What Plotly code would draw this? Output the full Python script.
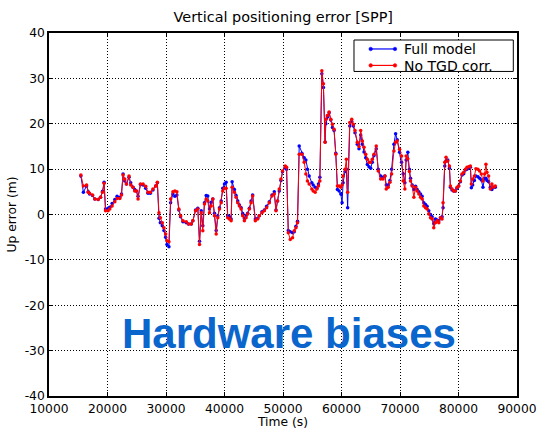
import plotly.graph_objects as go

time_s = [15450, 15880, 16420, 16700, 16940, 17450, 17840, 18400, 18810, 19150,
          19420, 19660, 20100, 20390, 20790, 21250, 21640, 22100, 22390, 22660,
          22950, 23240, 23680, 23970, 24360, 24650, 24940, 25220, 25630, 26070,
          26530, 26920, 27330, 27770, 28230, 28520, 28800, 29030, 29370, 29650,
          29940, 30160, 30500, 30790, 31180, 31520, 31860, 32200, 32490, 32890,
          33460, 33860, 34320, 34590, 35050, 35440, 35730, 36020, 36290, 36580,
          36870, 37140, 37430, 37720, 38000, 38290, 38580, 38850, 39140, 39430,
          39700, 39990, 40280, 40550, 40840, 41130, 41300, 41690, 41980, 42260,
          42550, 42840, 43110, 43400, 43690, 43960, 44250, 44540, 44810, 45270,
          45670, 45950, 46410, 46810, 47200, 47660, 48120, 48510, 48800, 49070,
          49360, 49650, 49920, 50380, 50610, 50900, 51240, 51630, 51920, 52210,
          52480, 52770, 53230, 53620, 53910, 54180, 54470, 54930, 55160, 55500,
          55790, 56060, 56300, 56640, 56910, 57200, 57320, 57590, 57880, 58170,
          58450, 58730, 59020, 59300, 59590, 59880, 60100, 60270, 60610, 60830,
          61050, 61410, 61750, 62020, 62310, 62700, 62990, 63280, 63560, 63850,
          64140, 64410, 64700, 64990, 65260, 65550, 65940, 66280, 66690, 67080,
          67420, 67650, 67990, 68280, 68570, 68960, 69250, 69520, 69930, 70270,
          70540, 70830, 71050, 71340, 71600, 71800, 72080, 72370, 72660, 72930,
          73220, 73510, 73780, 74070, 74360, 74630, 74920, 75210, 75490, 75770,
          76060, 76340, 76630, 76920, 77190, 77360, 77650, 77870, 78160, 78450,
          78620, 78890, 79180, 79470, 79750, 80030, 80320, 80600, 80890, 81180,
          81450, 81740, 82030, 82200, 82420, 82710, 82980, 83320, 83610, 83900,
          84180, 84470, 84690, 84860, 85150, 85440, 85710, 86000, 86290]

no_tgd = [8.7, 6.3, 6.5, 4.9, 4.7, 4.3, 3.4, 3.3, 3.8, 4.9,
          6.9, 0.8, 0.8, 1.2, 1.9, 2.8, 3.5, 3.5, 4.3, 8.7,
          7.8, 6.7, 8.5, 6.5, 6.0, 5.2, 5.2, 3.4, 6.7, 6.7,
          6.2, 4.9, 4.9, 5.6, 6.3, 7.1, 0.4, -0.7, -1.8, -2.9,
          -4.3, -5.8, -6.0, 3.4, 5.0, 5.2, 5.0, 1.2, -0.3, -1.4,
          -1.6, -2.1, -2.1, -1.4, 0.8, 1.2, -6.6, 0.4, -3.6, 2.3,
          3.4, 3.0, 0.4, 1.9, 3.4, -0.3, -4.3, -0.7, 1.2, 2.6,
          5.2, 5.8, 5.8, -0.7, -1.0, -1.4, 6.0, 4.9, 3.8, 2.6,
          1.9, 1.2, -0.3, -1.4, -0.7, 0.1, 1.2, 2.6, 4.1, -1.4,
          -1.0, -0.3, 0.4, 0.8, 1.5, 2.6, 4.1, 4.5, 0.8, 3.0,
          5.6, 7.8, 9.6, 10.7, 10.4, -4.0, -5.5, -5.1, -3.6, -2.9,
          -1.8, 13.3, 13.3, 11.5, 8.9, 7.4, 6.7, 5.6, 5.2, 4.9,
          5.6, 6.3, 7.4, 31.7, 28.8, 15.9, 21.0, 21.8, 22.6, 21.0,
          19.9, 18.8, 13.3, 6.3, 6.3, 6.0, 6.5, 8.5, 10.0, 12.2,
          4.9, 20.3, 21.0, 19.9, 18.5, 15.9, 15.0, 18.5, 16.2, 14.8,
          13.3, 12.2, 11.5, 11.5, 12.2, 13.3, 15.1, 9.6, 7.8, 7.8,
          8.5, 5.6, 6.0, 7.1, 8.9, 14.0, 15.9, 16.2, 14.4, 12.9,
          7.4, 5.6, 12.9, 12.3, 9.5, 7.4, 6.3, 3.8, 6.0, 5.2,
          4.5, 3.8, 3.4, 1.9, 1.5, 1.2, 0.1, -0.7, -1.0, -2.9,
          -1.8, -1.4, -1.8, -0.7, -1.0, 2.6, 11.5, 12.6, 11.8, 10.7,
          6.3, 5.6, 5.2, 5.2, 6.0, 6.3, 7.4, 8.9, 9.3, 10.0,
          10.4, 10.5, 10.7, 6.7, 7.8, 8.5, 10.1, 10.0, 9.6, 8.9,
          7.4, 8.9, 11.1, 9.3, 8.5, 5.6, 6.7, 6.0, 6.3]

full_model = [8.5, 4.9, 6.3, 5.0, 4.5, 4.2, 3.4, 3.3, 3.8, 5.1,
              7.1, 1.2, 1.4, 1.6, 2.4, 3.3, 4.0, 3.8, 4.5, 8.9,
              7.4, 6.7, 8.2, 7.0, 6.0, 5.5, 5.2, 4.0, 6.6, 6.5,
              5.8, 4.7, 4.7, 5.4, 6.3, 7.0, -0.8, -1.8, -2.5, -3.5,
              -5.0, -6.6, -7.1, 2.6, 4.5, 4.0, 4.3, 1.0, -0.5, -1.6,
              -1.8, -2.1, -2.1, -1.4, 1.0, 1.4, -5.9, 0.8, -2.5, 2.6,
              4.2, 4.1, 1.2, 2.7, 3.4, 0.3, -3.5, -0.3, 1.5, 3.0,
              5.8, 6.7, 7.1, -0.3, -0.5, -1.0, 7.2, 5.5, 4.2, 3.0,
              2.1, 1.5, 0.2, -0.9, -0.3, 0.3, 1.4, 3.0, 4.3, -1.0,
              -0.8, -0.3, 0.6, 1.0, 1.8, 2.8, 4.3, 5.0, 1.0, 3.0,
              5.2, 7.5, 9.4, 10.4, 10.0, -3.5, -3.8, -4.0, -3.8, -2.6,
              -1.5, 15.1, 13.5, 12.5, 12.0, 10.0, 8.5, 7.0, 6.5, 6.0,
              5.8, 6.7, 8.2, 31.0, 28.0, 16.0, 20.0, 21.5, 22.4, 20.8,
              19.2, 18.5, 13.5, 5.5, 5.2, 4.5, 2.6, 7.0, 9.5, 10.0,
              1.5, 19.5, 20.5, 19.5, 18.0, 15.5, 14.5, 17.5, 15.5, 13.8,
              12.5, 11.0, 10.5, 10.2, 11.5, 13.0, 14.5, 10.0, 8.5, 8.2,
              8.5, 6.5, 6.5, 7.5, 10.0, 15.5, 17.8, 16.5, 13.7, 11.5,
              9.0, 7.0, 12.0, 13.7, 10.0, 8.0, 6.5, 5.5, 6.2, 5.5,
              5.0, 4.5, 4.0, 2.6, 2.2, 1.8, 0.8, 0.0, -0.5, -2.0,
              -1.0, -1.2, -1.4, -0.7, -0.5, 1.5, 10.7, 11.8, 12.0, 10.2,
              6.0, 5.4, 5.2, 5.2, 5.8, 6.3, 7.2, 8.7, 9.0, 9.8,
              10.0, 10.3, 10.4, 5.9, 6.5, 7.5, 8.5, 8.3, 8.0, 7.6,
              6.0, 8.0, 8.0, 7.5, 7.2, 6.0, 5.5, 6.0, 6.0]

x_ticks = [10000, 20000, 30000, 40000, 50000, 60000, 70000, 80000, 90000]
x_tick_labels = ["10000", "20000", "30000", "40000", "50000", "60000", "70000", "80000", "90000"]
y_ticks = [-40, -30, -20, -10, 0, 10, 20, 30, 40]
y_tick_labels = ["-40", "-30", "-20", "-10", "0", "10", "20", "30", "40"]

series_names = ["Full model", "No TGD corr."]
series_colors = ["#0000ff", "#ff0000"]
title_text = "Vertical positioning error [SPP]"
x_title = "Time (s)"
y_title = "Up error (m)"
annotation_text = "Hardware biases"

font_family = "DejaVu Sans, sans-serif"

fig = go.Figure()
for name, vals, col in zip(series_names, [full_model, no_tgd], series_colors):
    fig.add_trace(go.Scatter(
        x=time_s, y=vals, name=name, mode="lines+markers",
        line=dict(color=col, width=1), marker=dict(color=col, size=3.5),
        showlegend=False,
    ))

axis_common = dict(
    showline=True, linecolor="black", linewidth=1.5, mirror="allticks",
    ticks="inside", ticklen=4, tickcolor="black", tickwidth=1,
    showgrid=True, gridcolor="black", gridwidth=1, griddash="1px,2px",
    zeroline=False, automargin=False,
    tickfont=dict(family=font_family, size=12.3, color="black"),
)

fig.update_layout(
    width=549, height=434,
    margin=dict(l=49, r=32, t=33, b=38),
    paper_bgcolor="white", plot_bgcolor="white",
    font=dict(family=font_family, size=12.3, color="black"),
    title=dict(text=title_text, x=0.516, xanchor="center", y=0.961, yanchor="middle",
               font=dict(family=font_family, size=14.4, color="black")),
    xaxis=dict(range=[10000, 90000], tickvals=x_ticks, ticktext=x_tick_labels,
               title=dict(text=x_title, standoff=3, font=dict(size=12.3)), **axis_common),
    yaxis=dict(range=[-40, 40], tickvals=y_ticks, ticktext=y_tick_labels,
               title=dict(text=y_title, standoff=5, font=dict(size=12.3)), **axis_common),
    showlegend=False,
)

# Legend drawn in the matplotlib style (box, two-point line samples, labels)
leg_x0, leg_x1, leg_y0, leg_y1 = 0.6517, 0.9921, 0.8941, 0.9807
sample_x0, sample_x1, text_x = 0.6874, 0.7393, 0.757
row_y = [0.9560, 0.9107]
fig.add_shape(type="rect", xref="paper", yref="paper", x0=leg_x0, x1=leg_x1, y0=leg_y0, y1=leg_y1,
              line=dict(color="black", width=1), fillcolor="white", layer="above")
for name, col, ry in zip(series_names, series_colors, row_y):
    fig.add_shape(type="line", xref="paper", yref="paper", x0=sample_x0, x1=sample_x1, y0=ry, y1=ry,
                  line=dict(color=col, width=1.2), layer="above")
    for sx in (sample_x0, sample_x1):
        fig.add_shape(type="circle", xref="paper", yref="paper", xsizemode="pixel", ysizemode="pixel",
                      xanchor=sx, yanchor=ry, x0=-1.8, x1=1.8, y0=-1.8, y1=1.8,
                      line=dict(color=col, width=0.5), fillcolor=col, layer="above")
    fig.add_annotation(x=text_x, y=ry, xref="paper", yref="paper", text=name, showarrow=False,
                       xanchor="left", yanchor="middle", height=15, borderpad=0,
                       font=dict(family=font_family, size=14, color="black"))

fig.add_annotation(
    x=51110, y=-26.3, xref="x", yref="y", text="<b>" + annotation_text + "</b>",
    showarrow=False, xanchor="center", yanchor="middle",
    font=dict(family="Liberation Sans, Arial, sans-serif", size=42, color="#0a66cc"),
)

fig.write_html("out.html", config={"displayModeBar": False},
               post_script="document.body.style.margin='0';")
